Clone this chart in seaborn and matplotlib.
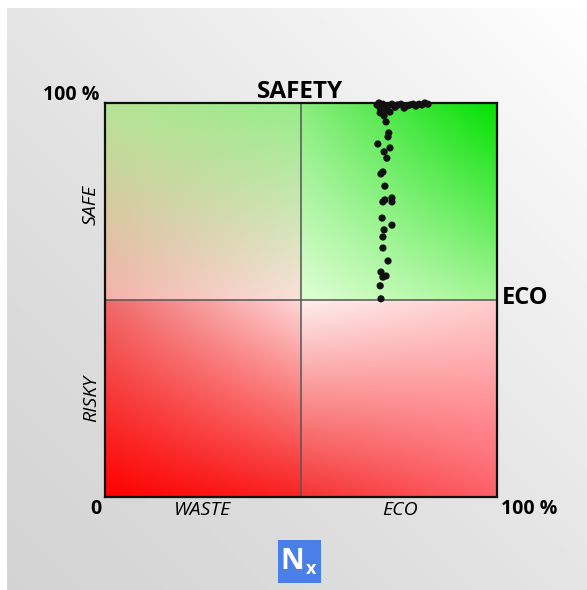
import numpy as np
import pandas as pd
import matplotlib
matplotlib.use("Agg")
import matplotlib.pyplot as plt
import seaborn as sns

# ---- data (percent ECO on x, percent SAFETY on y) ----
eco_pct = [69.4, 70.2, 70.9, 71.7, 72.2, 73.2, 74.0, 74.7, 75.5, 76.3, 77.0, 77.8,
           78.6, 79.3, 80.1, 80.9, 81.6, 82.4, 70.2, 71.2, 70.7, 72.7, 69.9, 71.7,
           72.4, 72.2, 69.6, 72.7, 71.2, 71.9, 70.9, 70.4, 71.4, 70.9, 71.4, 73.2,
           73.2, 70.7, 73.2, 71.2, 70.9, 70.9, 72.2, 70.4, 70.9, 71.7, 70.2, 70.4]
safety_pct = [99.5, 98.7, 99.7, 98.2, 99.2, 99.7, 98.9, 99.5, 99.7, 98.7, 99.2, 99.5,
              99.7, 99.2, 99.7, 99.5, 100.0, 99.7, 97.5, 96.7, 98.2, 97.7, 100.0, 95.2,
              92.4, 91.4, 89.6, 88.6, 87.6, 86.0, 82.5, 82.0, 78.9, 74.9, 75.4, 75.9,
              74.9, 70.8, 69.0, 67.8, 66.0, 63.2, 59.9, 57.1, 55.8, 56.1, 53.6, 50.3]
x_labels = ["WASTE", "ECO"]
y_labels = ["RISKY", "SAFE"]

df = pd.DataFrame({"eco": eco_pct, "safety": safety_pct})

W, H = 587, 590
fig = plt.figure(figsize=(W / 100, H / 100), dpi=100)

# ---- figure background: light gray diagonal gradient ----
bg = fig.add_axes([0, 0, 1, 1], zorder=-10)
yy, xx = np.mgrid[0:1:300j, 0:1:300j]
t = np.clip((xx + yy) / 2.0, 0, 1)  # 0 bottom-left -> 1 top-right
g = 0.83 + 0.17 * t ** 1.3
img = np.dstack([g, g, g])
bg.imshow(img, origin="lower", extent=[0, 1, 0, 1], aspect="auto")
bg.axhspan(1 - 8 / H, 1, color="white", lw=0)
bg.axvspan(0, 7 / W, color="white", lw=0)
bg.set_xlim(0, 1)
bg.set_ylim(0, 1)
bg.axis("off")

# ---- main axes ----
ax = fig.add_axes([105 / W, 1 - 497 / H, 392 / W, 394 / H])


def quad(bl, br, tl, tr, n=200):
    bl, br, tl, tr = [np.array(c, float) / 255 for c in (bl, br, tl, tr)]
    u = np.linspace(0, 1, n)[None, :, None]
    v = np.linspace(0, 1, n)[:, None, None]
    return (1 - v) * ((1 - u) * bl + u * br) + v * ((1 - u) * tl + u * tr)


ll = quad((255, 0, 0), (248, 35, 35), (240, 105, 105), (255, 215, 215))
lr = quad((245, 50, 50), (255, 95, 105), (255, 238, 238), (255, 205, 205))
ul = quad((245, 178, 172), (250, 225, 218), (182, 228, 150), (150, 237, 135))
ur = quad((222, 255, 212), (165, 245, 150), (140, 237, 128), (0, 225, 0))
grad = np.vstack([np.hstack([ll, lr]), np.hstack([ul, ur])])
ax.imshow(grad, origin="lower", extent=[0, 100, 0, 100], aspect="auto",
          interpolation="bilinear", zorder=0)

ax.axvline(50, color="#555555", lw=1.1, zorder=1)
ax.axhline(50, color="#555555", lw=1.1, zorder=1)

sns.scatterplot(data=df, x="eco", y="safety", ax=ax, color="#111111", s=27,
                edgecolor="none", zorder=3, clip_on=False, legend=False)

ax.set_xlim(0, 100)
ax.set_ylim(0, 100)
ax.set_xticks([])
ax.set_yticks([])
ax.set_xlabel("")
ax.set_ylabel("")
for sp in ax.spines.values():
    sp.set_color("#111111")
    sp.set_linewidth(1.6)

fam = ["Open Sans", "DejaVu Sans"]


def ftext(px, py, s, **kw):
    fig.text(px / W, 1 - py / H, s, family=fam, **kw)


ftext(71, 95, "100 %", fontsize=14, fontweight="bold", ha="center", va="center")
ftext(300, 92, "SAFETY", fontsize=17.5, fontweight="bold", ha="center", va="center")
ftext(502, 298, "ECO", fontsize=17, fontweight="bold", ha="left", va="center")
ftext(96, 509, "0", fontsize=14, fontweight="bold", ha="center", va="center")
ftext(529, 509, "100 %", fontsize=14, fontweight="bold", ha="center", va="center")
ftext(203, 510, x_labels[0], fontsize=14, fontstyle="italic", ha="center", va="center")
ftext(400, 510, x_labels[1], fontsize=14, fontstyle="italic", ha="center", va="center")
ftext(91, 399, y_labels[0], fontsize=14, fontstyle="italic", ha="center", va="center",
      rotation=90)
ftext(91, 205, y_labels[1], fontsize=14, fontstyle="italic", ha="center", va="center",
      rotation=90)

# ---- Nx logo ----
logo = fig.add_axes([278 / W, 1 - 583 / H, 43 / W, 43 / H])
logo.set_facecolor("#4a7fe8")
logo.set_xticks([])
logo.set_yticks([])
for sp in logo.spines.values():
    sp.set_visible(False)
logo.text(0.33, 0.50, "N", color="white", fontsize=21, fontweight="bold",
          family=fam, ha="center", va="center", transform=logo.transAxes)
logo.text(0.76, 0.33, "x", color="white", fontsize=13, fontweight="bold",
          family=fam, ha="center", va="center", transform=logo.transAxes)

fig.savefig("out.png", dpi=100)
